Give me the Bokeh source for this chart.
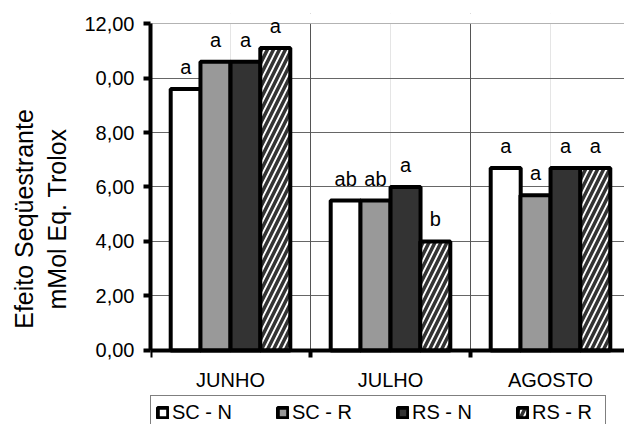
from bokeh.plotting import figure
from bokeh.models import (ColumnDataSource, FixedTicker, Legend, LegendItem, Range1d,
                          LinearAxis, BoxAnnotation, Grid)
from bokeh.transform import dodge
from bokeh.core.properties import value
from bokeh.embed import file_html
from bokeh.resources import INLINE

months = ["JUNHO", "JULHO", "AGOSTO"]
series = ["SC - N", "SC - R", "RS - N", "RS - R"]
sc_n = [9.6, 5.5, 6.7]
sc_r = [10.6, 5.5, 5.7]
rs_n = [10.6, 6.0, 6.7]
rs_r = [11.1, 4.0, 6.7]
lab_sc_n = ["a", "ab", "a"]
lab_sc_r = ["a", "ab", "a"]
lab_rs_n = ["a", "a", "a"]
lab_rs_r = ["a", "b", "a"]
y_ticks = [0, 2, 4, 6, 8, 10, 12]
y_tick_labels = ["0,00", "2,00", "4,00", "6,00", "8,00", "0,00", "12,00"]

FONT = "Liberation Sans"
pos = list(range(len(months)))
bounds = [p_ - 0.5 for p_ in pos] + [pos[-1] + 0.5]
src = ColumnDataSource(dict(x=pos, sc_n=sc_n, sc_r=sc_r, rs_n=rs_n, rs_r=rs_r,
                            l1=lab_sc_n, l2=lab_sc_r, l3=lab_rs_n, l4=lab_rs_r))

# frame spans down to the window bottom; the category axis sits at y = 0
p = figure(width=624, height=424, output_backend="svg", toolbar_location=None,
           x_range=Range1d(-0.5, 2.4625), y_range=Range1d(-2.72, 12.37),
           x_axis_location=None,
           min_border_left=150, min_border_right=0, min_border_top=13, min_border_bottom=0)
p.outline_line_color = None
p.background_fill_color = "white"

bw = 0.1875
offs = [-0.28, -0.094, 0.094, 0.28]
fills = ["white", "#999999", "#333333", "white"]
cols = ["sc_n", "sc_r", "rs_n", "rs_r"]
labs = ["l1", "l2", "l3", "l4"]
hatch = dict(hatch_pattern="/", hatch_color="#333333", hatch_weight=3.5, hatch_scale=12)
renderers = []
for i in range(4):
    kw = hatch if i == 3 else {}
    r = p.vbar(x=dodge("x", offs[i], range=p.x_range), top=cols[i], width=bw, bottom=0,
               source=src, fill_color=fills[i], line_color="black", line_width=4, **kw)
    renderers.append(r)
    p.text(x=dodge("x", offs[i], range=p.x_range), y=cols[i], text=labs[i], source=src,
           text_align="center", text_baseline="alphabetic", y_offset=-22,
           text_font=value(FONT), text_font_size="20px", text_color="black")

# category axis fixed at y = 0
xa = LinearAxis(fixed_location=0)
xa.ticker = FixedTicker(ticks=pos, minor_ticks=bounds)
xa.major_label_overrides = {i: m for i, m in zip(pos, months)}
xa.major_tick_line_color = None
xa.major_tick_out = 6
xa.major_tick_in = 0
xa.minor_tick_out = 7
xa.minor_tick_in = 0
xa.minor_tick_line_width = 4
xa.minor_tick_line_color = "black"
xa.axis_line_width = 4
xa.axis_line_color = "black"
xa.major_label_standoff = 12
xa.major_label_text_font = FONT
xa.major_label_text_font_size = "20px"
xa.major_label_text_color = "black"
p.add_layout(xa, "below")

p.yaxis.ticker = FixedTicker(ticks=y_ticks, minor_ticks=[])
p.yaxis.bounds = (0, 12)
p.yaxis.major_label_overrides = {t: s for t, s in zip(y_ticks, y_tick_labels)}
p.yaxis.major_tick_out = 7
p.yaxis.major_tick_in = 0
p.yaxis.major_tick_line_width = 4
p.yaxis.axis_line_width = 4
p.yaxis.major_label_standoff = 9
p.yaxis.major_label_text_font = FONT
p.yaxis.major_label_text_font_size = "20px"
p.yaxis.major_label_text_color = "black"
p.yaxis.axis_label = "Efeito Seqüestrante\nmMol Eq. Trolox"
p.yaxis.axis_label_text_font = FONT
p.yaxis.axis_label_text_font_size = "25px"
p.yaxis.axis_label_text_font_style = "normal"
p.yaxis.axis_label_text_color = "black"
p.yaxis.axis_label_standoff = 10

# vertical separators between months (not at the value axis itself), 0..12 only
vgrid = Grid(dimension=0, ticker=FixedTicker(ticks=[], minor_ticks=bounds[1:]),
             grid_line_color=None, minor_grid_line_color="#555555", minor_grid_line_width=1)
p.add_layout(vgrid, "center")
p.ygrid.grid_line_color = "#666666"
p.ygrid.grid_line_width = 1
# blank the areas outside 0..12 so the grid spans only the value range
p.add_layout(BoxAnnotation(top=0, fill_color="white", fill_alpha=1, line_color=None,
                           level="underlay"))
p.add_layout(BoxAnnotation(bottom=12, fill_color="white", fill_alpha=1, line_color=None,
                           level="underlay"))

legend = Legend(items=[LegendItem(label=s, renderers=[r]) for s, r in zip(series, renderers)],
                orientation="horizontal", location=(0, -6), margin=0,
                padding=5, spacing=36, label_width=68, label_standoff=3,
                glyph_width=13, glyph_height=13,
                label_text_font=FONT, label_text_font_size="20px", label_text_color="black",
                border_line_color="black", border_line_width=1, background_fill_alpha=1)
p.add_layout(legend, "center")

open("out.html", "w").write(file_html(p, INLINE))
